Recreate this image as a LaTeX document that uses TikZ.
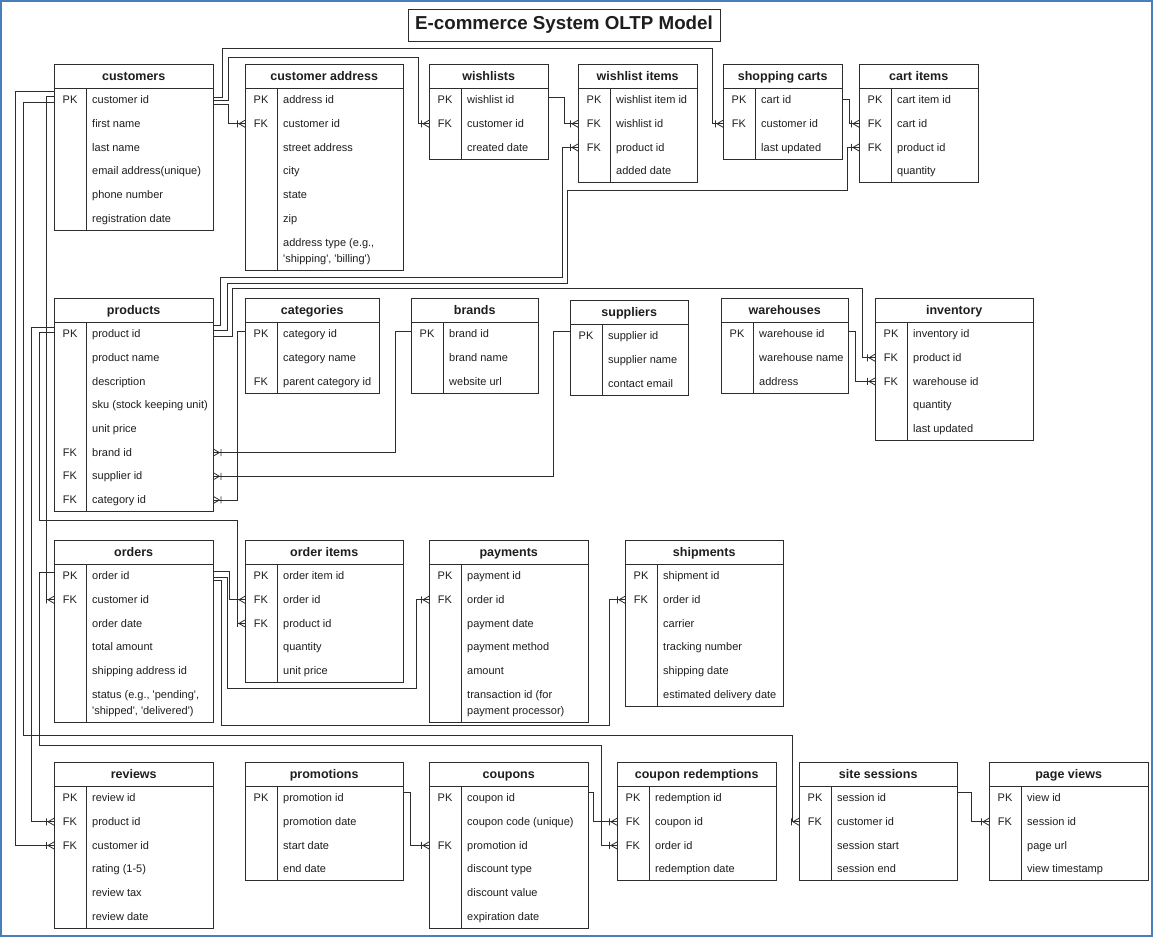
\documentclass[tikz,border=0pt]{standalone}
\usepackage{fontspec}
\setmainfont{Liberation Sans}
\newfontfamily\arial{Liberation Sans}
\usetikzlibrary{decorations.markings}
\definecolor{framec}{RGB}{74,126,187}
\definecolor{linec}{RGB}{45,45,45}
\definecolor{txt}{RGB}{30,30,30}
\newcount\erc
\newcommand\ertable[5]{%
  \def\erN{#1}\pgfmathsetmacro\erX{#2}\pgfmathsetmacro\erT{#3}\pgfmathsetmacro\erW{#4}%
  \def\erWd{#4pt}%
  \pgfmathsetmacro\erY{#3+24}%
  \erc=0
  \node[hdr, minimum width=\erWd, minimum height=24pt, anchor=north west] (#1) at (#2,#3) {#5};
}
\newcommand\errow[3][1]{%
  \advance\erc by 1
  \edef\erID{\erN-\the\erc}%
  \ifnum#1=1 \def\erRH{23.7}\def\erFS{fieldt}\else\def\erRH{40}\def\erFS{fieldtwo}\fi
  \node[rowbox, minimum width=\erWd, minimum height=\erRH pt, anchor=north west] (\erID) at (\erX,\erY) {};
  \node[keyt] at (\erX+16,\erY+\erRH/2) {#2};
  \node[\erFS, anchor=west] at (\erX+38,\erY+\erRH/2) {#3};
  \pgfmathsetmacro\erY{\erY+\erRH}%
}
\newcommand\erend{%
  \draw[tab] (\erX,\erT) rectangle (\erX+\erW,\erY);
  \draw[tab] (\erX,\erT+24) -- (\erX+\erW,\erT+24);
  \draw[tab] (\erX+32,\erT+24) -- (\erX+32,\erY);
}
\begin{document}
\begin{tikzpicture}[x=1pt,y=-1pt,
  hdr/.style={inner sep=0pt, text height=11.6pt, text depth=2.8pt, font=\arial\bfseries\fontsize{12.5}{15}\selectfont, text=txt},
  keyt/.style={inner sep=0pt, text height=10pt, text depth=2.5pt, font=\arial\fontsize{11}{16}\selectfont, text=txt},
  fieldt/.style={inner sep=0pt, text height=10pt, text depth=2.5pt, font=\arial\fontsize{11}{16}\selectfont, text=txt},
  fieldtwo/.style={inner sep=0pt, yshift=-1pt, align=left, font=\arial\fontsize{11}{16}\selectfont, text=txt},
  rowbox/.style={inner sep=0pt, draw=none},
  tab/.style={draw=linec, line width=0.8pt},
  rel/.style={draw=linec, line width=0.8pt, postaction={decorate},
    decoration={markings, mark=at position 1 with {\draw[linec, line width=0.8pt] (-6pt,0pt) -- (0pt,3.5pt) (-6pt,0pt) -- (0pt,-3.5pt) (-7.5pt,3.5pt) -- (-7.5pt,-3.5pt);}}}
]
\useasboundingbox (0,0) rectangle (1157,937);
\fill[white] (0,0) rectangle (1157,937);
\draw[framec, line width=1.5pt] (1,1) rectangle (1152,936);

\node[draw=linec, line width=0.8pt, minimum width=312pt, minimum height=32pt, inner sep=0pt,
  text height=13.5pt, text depth=4pt,
  font=\arial\bfseries\fontsize{18.75}{22}\selectfont, text=txt] (title) at (564,25) {E-commerce System OLTP Model};

% ---------- row 1
\ertable{cust}{54}{64}{159}{customers}
\errow{PK}{customer id}\errow{}{first name}\errow{}{last name}\errow{}{email address(unique)}\errow{}{phone number}\errow{}{registration date}
\erend
\ertable{addr}{245}{64}{158}{customer address}
\errow{PK}{address id}\errow{FK}{customer id}\errow{}{street address}\errow{}{city}\errow{}{state}\errow{}{zip}\errow[2]{}{address type (e.g.,\\'shipping', 'billing')}
\erend
\ertable{wls}{429}{64}{119}{wishlists}
\errow{PK}{wishlist id}\errow{FK}{customer id}\errow{}{created date}
\erend
\ertable{wi}{578}{64}{119}{wishlist items}
\errow{PK}{wishlist item id}\errow{FK}{wishlist id}\errow{FK}{product id}\errow{}{added date}
\erend
\ertable{cart}{723}{64}{119}{shopping carts}
\errow{PK}{cart id}\errow{FK}{customer id}\errow{}{last updated}
\erend
\ertable{ci}{859}{64}{119}{cart items}
\errow{PK}{cart item id}\errow{FK}{cart id}\errow{FK}{product id}\errow{}{quantity}
\erend

% ---------- row 2
\ertable{prod}{54}{298}{159}{products}
\errow{PK}{product id}\errow{}{product name}\errow{}{description}\errow{}{sku (stock keeping unit)}\errow{}{unit price}\errow{FK}{brand id}\errow{FK}{supplier id}\errow{FK}{category id}
\erend
\ertable{cat}{245}{298}{134}{categories}
\errow{PK}{category id}\errow{}{category name}\errow{FK}{parent category id}
\erend
\ertable{br}{411}{298}{127}{brands}
\errow{PK}{brand id}\errow{}{brand name}\errow{}{website url}
\erend
\ertable{sup}{570}{300}{118}{suppliers}
\errow{PK}{supplier id}\errow{}{supplier name}\errow{}{contact email}
\erend
\ertable{wh}{721}{298}{127}{warehouses}
\errow{PK}{warehouse id}\errow{}{warehouse name}\errow{}{address}
\erend
\ertable{inv}{875}{298}{158}{inventory}
\errow{PK}{inventory id}\errow{FK}{product id}\errow{FK}{warehouse id}\errow{}{quantity}\errow{}{last updated}
\erend

% ---------- row 3
\ertable{ord}{54}{540}{159}{orders}
\errow{PK}{order id}\errow{FK}{customer id}\errow{}{order date}\errow{}{total amount}\errow{}{shipping address id}\errow[2]{}{status (e.g., 'pending',\\'shipped', 'delivered')}
\erend
\ertable{oi}{245}{540}{158}{order items}
\errow{PK}{order item id}\errow{FK}{order id}\errow{FK}{product id}\errow{}{quantity}\errow{}{unit price}
\erend
\ertable{pay}{429}{540}{159}{payments}
\errow{PK}{payment id}\errow{FK}{order id}\errow{}{payment date}\errow{}{payment method}\errow{}{amount}\errow[2]{}{transaction id (for\\payment processor)}
\erend
\ertable{shp}{625}{540}{158}{shipments}
\errow{PK}{shipment id}\errow{FK}{order id}\errow{}{carrier}\errow{}{tracking number}\errow{}{shipping date}\errow{}{estimated delivery date}
\erend

% ---------- row 4
\ertable{rev}{54}{762}{159}{reviews}
\errow{PK}{review id}\errow{FK}{product id}\errow{FK}{customer id}\errow{}{rating (1-5)}\errow{}{review tax}\errow{}{review date}
\erend
\ertable{pro}{245}{762}{158}{promotions}
\errow{PK}{promotion id}\errow{}{promotion date}\errow{}{start date}\errow{}{end date}
\erend
\ertable{cou}{429}{762}{159}{coupons}
\errow{PK}{coupon id}\errow{}{coupon code (unique)}\errow{FK}{promotion id}\errow{}{discount type}\errow{}{discount value}\errow{}{expiration date}
\erend
\ertable{cr}{617}{762}{159}{coupon redemptions}
\errow{PK}{redemption id}\errow{FK}{coupon id}\errow{FK}{order id}\errow{}{redemption date}
\erend
\ertable{ss}{799}{762}{158}{site sessions}
\errow{PK}{session id}\errow{FK}{customer id}\errow{}{session start}\errow{}{session end}
\erend
\ertable{pv}{989}{762}{159}{page views}
\errow{PK}{view id}\errow{FK}{session id}\errow{}{page url}\errow{}{view timestamp}
\erend

% ---------- connectors
\draw[rel] ([yshift=3pt]cust-1.east) -- ++(9,0) |- (712,48) |- (cart-2.west);
\draw[rel] (cust-1.east) -- ++(15,0) |- (418,57) |- (wls-2.west);
\draw[rel] ([yshift=-4pt]cust-1.east) -- ++(15,0) |- (addr-2.west);
\draw[rel] ([yshift=4pt]cust-1.west) -- ++(-8,0) |- (ord-2.west);
\draw[rel] ([yshift=9pt]cust-1.west) -- ++(-39,0) |- (rev-3.west);
\draw[rel] ([yshift=-2pt]cust-1.west) -- ++(-31,0) |- (792,735) |- (ss-2.west);

\draw[rel] ([yshift=9pt]prod-1.east) -- ++(7,0) |- (562,277) |- (wi-3.west);
\draw[rel] ([yshift=4pt]prod-1.east) -- ++(14,0) |- (567,283) |- (847,190) |- (ci-3.west);
\draw[rel] ([yshift=-2pt]prod-1.east) -- ++(19,0) |- (862,288) |- (inv-2.west);
\draw[rel] ([yshift=6.5pt]prod-1.west) -- ++(-23,0) |- (rev-2.west);
\draw[rel] ([yshift=2pt]prod-1.west) -- ++(-15,0) |- (237,520) |- (oi-3.west);
\draw[rel] ([yshift=3pt]cat-1.west) -- ++(-8,0) |- (prod-8.east);
\draw[rel] ([yshift=3pt]br-1.west) -- ++(-16,0) |- (prod-6.east);
\draw[rel] ([yshift=5pt]sup-1.west) -- ++(-17,0) |- (prod-7.east);
\draw[rel] ([yshift=3pt]wh-1.east) -- ++(7,0) |- (inv-3.west);
\draw[rel] ([yshift=3pt]wls-1.east) -- ++(16,0) |- (wi-2.west);
\draw[rel] ([yshift=1pt]cart-1.east) -- ++(7,0) |- (ci-2.west);

\draw[rel] ([yshift=5pt]ord-1.east) -- ++(15.5,0) |- (oi-2.west);
\draw[rel] ([yshift=-1.5pt]ord-1.east) -- ++(13.5,0) |- (416,688) |- (pay-2.west);
\draw[rel] ([yshift=-4pt]ord-1.east) -- ++(8,0) |- (609,725) |- (shp-2.west);
\draw[rel] ([yshift=4pt]ord-1.west) -- ++(-15,0) |- (601,745) |- (cr-3.west);

\draw[rel] ([yshift=6pt]pro-1.east) -- ++(7,0) |- (cou-3.west);
\draw[rel] ([yshift=6pt]cou-1.east) -- ++(5,0) |- (cr-2.west);
\draw[rel] ([yshift=6pt]ss-1.east) -- ++(14,0) |- (pv-2.west);
\end{tikzpicture}
\end{document}
